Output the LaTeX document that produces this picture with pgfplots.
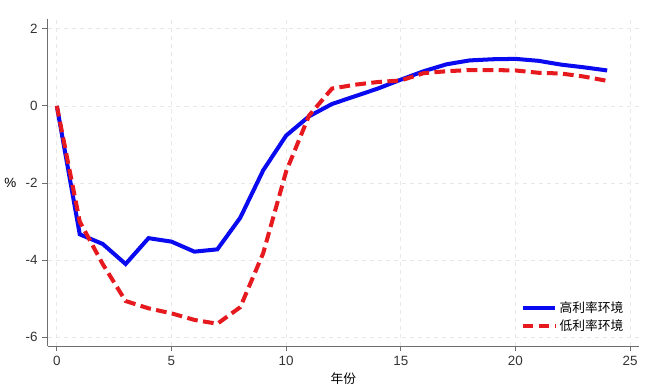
\documentclass[border=0pt]{standalone}
\usepackage{pgfplots}
\pgfplotsset{compat=1.18}
\usepackage{fontspec}
\setmainfont{Liberation Sans}
\newfontfamily\cjk{Noto Sans CJK SC}

\definecolor{hiblue}{RGB}{10,10,240}
\definecolor{lored}{RGB}{230,25,30}
\definecolor{axgray}{RGB}{110,110,110}

\pgfplotstableread{
x high low
0 0 0
1 -3.33 -3.0
2 -3.58 -4.1
3 -4.1 -5.06
4 -3.43 -5.25
5 -3.52 -5.38
6 -3.78 -5.55
7 -3.72 -5.65
8 -2.9 -5.22
9 -1.67 -3.82
10 -0.77 -1.7
11 -0.27 -0.25
12 0.05 0.45
13 0.25 0.55
14 0.45 0.62
15 0.68 0.66
16 0.9 0.85
17 1.08 0.9
18 1.18 0.93
19 1.21 0.93
20 1.22 0.92
21 1.17 0.86
22 1.07 0.84
23 1.0 0.76
24 0.92 0.65
}\datatable

\begin{document}
\begin{tikzpicture}
\begin{axis}[
  width=441pt, height=244pt, scale only axis,
  xmin=-0.4, xmax=25.4, ymin=-6.23, ymax=2.26,
  axis x line*=bottom, axis y line*=left,
  axis line style={axgray, line width=0.8pt},
  xtick={0,5,...,25}, ytick={-6,-4,...,2},
  tick align=outside, major tick length=4pt,
  tick style={axgray, line width=0.7pt},
  grid=major,
  major grid style={dashed, gray!18, line width=0.5pt},
  ticklabel style={font=\fontsize{10}{11}\selectfont, text=black!80},
  /pgf/number format/assume math mode=true,
  xlabel={\cjk 年份}, ylabel={\%},
  xlabel style={font=\fontsize{9.5}{10}\selectfont, yshift=2pt},
  ylabel style={font=\fontsize{10}{11}\selectfont, rotate=-90, xshift=0pt},
  legend style={draw=none, fill=none, at={(0.985,0.025)}, anchor=south east,
    font=\cjk\fontsize{9.5}{11}\selectfont, row sep=0pt},
  legend cell align=left,
  legend image code/.code={\draw[#1] (0cm,0cm) -- (0.85cm,0cm);},
]
\addplot[hiblue, line width=3pt] table[x=x, y=high] {\datatable};
\addlegendentry{高利率环境}
\addplot[lored, line width=3pt, dash pattern=on 8pt off 4pt] table[x=x, y=low] {\datatable};
\addlegendentry{低利率环境}
\end{axis}
\path (current axis.north east) ++(8pt,14pt);
\end{tikzpicture}
\end{document}
